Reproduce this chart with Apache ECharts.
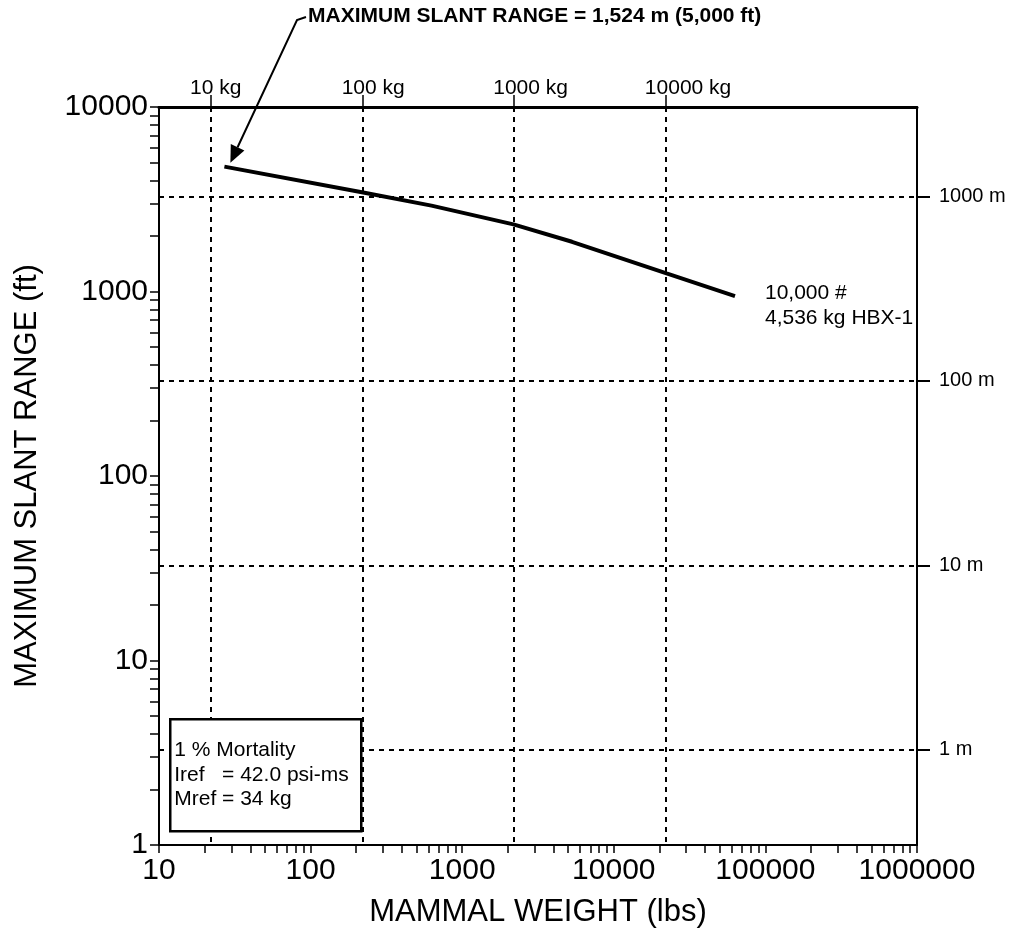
<!DOCTYPE html>
<html>
<head>
<meta charset="utf-8">
<script src="https://cdn.jsdelivr.net/npm/echarts@6/dist/echarts.min.js"></script>
<style>
  html, body { margin: 0; padding: 0; background: #fff; }
  #chart { width: 1016px; height: 934px; }
</style>
</head>
<body>
<div id="chart"></div>
<script>
// Maximum slant range for 1 % mortality vs. mammal weight, 10,000 lb HBX-1 charge
const weightLbs    = [27, 218, 627, 2177, 5300, 22280, 63000];
const slantRangeFt = [4750, 3450, 2920, 2310, 1860, 1255, 945];

// Axis tick values
const weightTicksLbs = [10, 100, 1000, 10000, 100000, 1000000];
const rangeTicksFt   = [1, 10, 100, 1000, 10000];
const massTicksKg    = [10, 100, 1000, 10000];
const rangeTicksM    = [1, 10, 100, 1000];

// Text
const curveLabel = ['10,000 #', '4,536 kg HBX-1'];
const noteLines  = ['1 % Mortality', 'Iref   = 42.0 psi-ms', 'Mref = 34 kg'];
const headline   = 'MAXIMUM SLANT RANGE = 1,524 m (5,000 ft)';

const LBS_PER_KG = 2.20462;
const FT_PER_M = 3.28084;
const FONT = '"Liberation Sans", Arial, Helvetica, sans-serif';

// 1..9 minor ticks within each decade of a log axis
function logMinorTicks(decades) {
  const out = [];
  for (let i = 0; i < decades.length - 1; i++) {
    for (let k = 1; k < 10; k++) out.push(k * decades[i]);
  }
  out.push(decades[decades.length - 1]);
  return out;
}

const black = '#000';
const gridDash = { color: black, width: 2, type: [5, 5] };

const chart = echarts.init(document.getElementById('chart'), null, { renderer: 'canvas' });

const option = {
  backgroundColor: '#fff',
  animation: false,
  textStyle: { fontFamily: FONT },
  grid: { left: 159, right: 99, top: 107, bottom: 89, containLabel: false },
  xAxis: [
    {
      type: 'log', logBase: 10, position: 'bottom',
      min: weightTicksLbs[0], max: weightTicksLbs[weightTicksLbs.length - 1],
      name: 'MAMMAL WEIGHT (lbs)', nameLocation: 'middle', nameGap: 52,
      nameTextStyle: { fontSize: 31, color: black, fontFamily: FONT },
      axisLine: { show: true, lineStyle: { color: black, width: 2 } },
      axisTick: { show: true, inside: false, length: 8, customValues: logMinorTicks(weightTicksLbs),
                  lineStyle: { color: black, width: 1.5 } },
      axisLabel: { customValues: weightTicksLbs, fontSize: 30, color: black, margin: 11,
                   fontFamily: FONT, formatter: v => String(Math.round(v)) },
      splitLine: { show: false }
    },
    {
      type: 'log', logBase: 10, position: 'top',
      min: weightTicksLbs[0] / LBS_PER_KG, max: weightTicksLbs[weightTicksLbs.length - 1] / LBS_PER_KG,
      axisLine: { show: true, lineStyle: { color: black, width: 3 } },
      axisTick: { show: true, inside: false, length: 12, customValues: massTicksKg,
                  lineStyle: { color: black, width: 1.5 } },
      axisLabel: { customValues: massTicksKg, fontSize: 21, color: black, margin: 8,
                   align: 'left', padding: [0, 0, 0, -21],
                   fontFamily: FONT, formatter: v => Math.round(v) + ' kg' },
      splitLine: { show: true, lineStyle: gridDash }
    }
  ],
  yAxis: [
    {
      type: 'log', logBase: 10, position: 'left',
      min: rangeTicksFt[0], max: rangeTicksFt[rangeTicksFt.length - 1],
      name: 'MAXIMUM SLANT RANGE (ft)', nameLocation: 'middle', nameGap: 116,
      nameTextStyle: { fontSize: 31, color: black, fontFamily: FONT },
      axisLine: { show: true, lineStyle: { color: black, width: 2 } },
      axisTick: { show: true, inside: false, length: 9, customValues: logMinorTicks(rangeTicksFt),
                  lineStyle: { color: black, width: 1.5 } },
      axisLabel: { customValues: rangeTicksFt, fontSize: 30, color: black, margin: 11,
                   fontFamily: FONT, formatter: v => String(Math.round(v)) },
      splitLine: { show: false }
    },
    {
      type: 'log', logBase: 10, position: 'right',
      min: rangeTicksFt[0] / FT_PER_M, max: rangeTicksFt[rangeTicksFt.length - 1] / FT_PER_M,
      axisLine: { show: true, lineStyle: { color: black, width: 2 } },
      axisTick: { show: true, inside: false, length: 13, customValues: rangeTicksM,
                  lineStyle: { color: black, width: 2 } },
      axisLabel: { customValues: rangeTicksM, fontSize: 20, color: black, margin: 22,
                   fontFamily: FONT, formatter: v => Math.round(v) + ' m' },
      splitLine: { show: true, lineStyle: gridDash }
    }
  ],
  series: [
    {
      type: 'line',
      xAxisIndex: 0, yAxisIndex: 0,
      data: weightLbs.map((w, i) => [w, slantRangeFt[i]]),
      symbol: 'none',
      lineStyle: { color: black, width: 4 },
      endLabel: {
        show: true, formatter: curveLabel.join('\n'), distance: 30, offset: [0, 10],
        fontSize: 21, lineHeight: 25, color: black, fontFamily: FONT, align: 'left'
      },
      z: 5
    }
  ]
};

chart.setOption(option);

// Annotations placed after the scales exist
function drawAnnotations() {
  const start = chart.convertToPixel({ xAxisIndex: 0, yAxisIndex: 0 }, [weightLbs[0], slantRangeFt[0]]);
  const tip = [start[0] + 6, start[1] - 4];
  const textLeft = 308, textY = 17;
  const corner = [textLeft - 11, textY + 3];
  const dx = tip[0] - corner[0], dy = tip[1] - corner[1];
  const len = Math.hypot(dx, dy);
  const ux = dx / len, uy = dy / len;
  const headLen = 17, headHalf = 7.5;
  const base = [tip[0] - headLen * ux, tip[1] - headLen * uy];
  const nx = -uy, ny = ux;

  chart.setOption({
    graphic: [
      {
        type: 'text', left: textLeft, top: textY - 11,
        style: { text: headline, fontSize: 21, fontWeight: 'bold', fill: black, fontFamily: FONT }
      },
      {
        type: 'polyline',
        shape: { points: [[textLeft - 2, textY], corner, base] },
        style: { stroke: black, lineWidth: 2, fill: null }
      },
      {
        type: 'polygon',
        shape: { points: [tip, [base[0] + headHalf * nx, base[1] + headHalf * ny],
                          [base[0] - headHalf * nx, base[1] - headHalf * ny]] },
        style: { fill: black }
      },
      {
        type: 'group', left: 169, top: 718, z: 10,
        children: [
          { type: 'rect', shape: { x: 0, y: 0, width: 191, height: 112 },
            style: { fill: '#fff', stroke: black, lineWidth: 2.5 } },
          { type: 'text', left: 4, top: 19,
            style: { text: noteLines.join('\n'), fontSize: 21, lineHeight: 24.5, fill: black, fontFamily: FONT } }
        ]
      }
    ]
  });
}
drawAnnotations();
</script>
</body>
</html>
